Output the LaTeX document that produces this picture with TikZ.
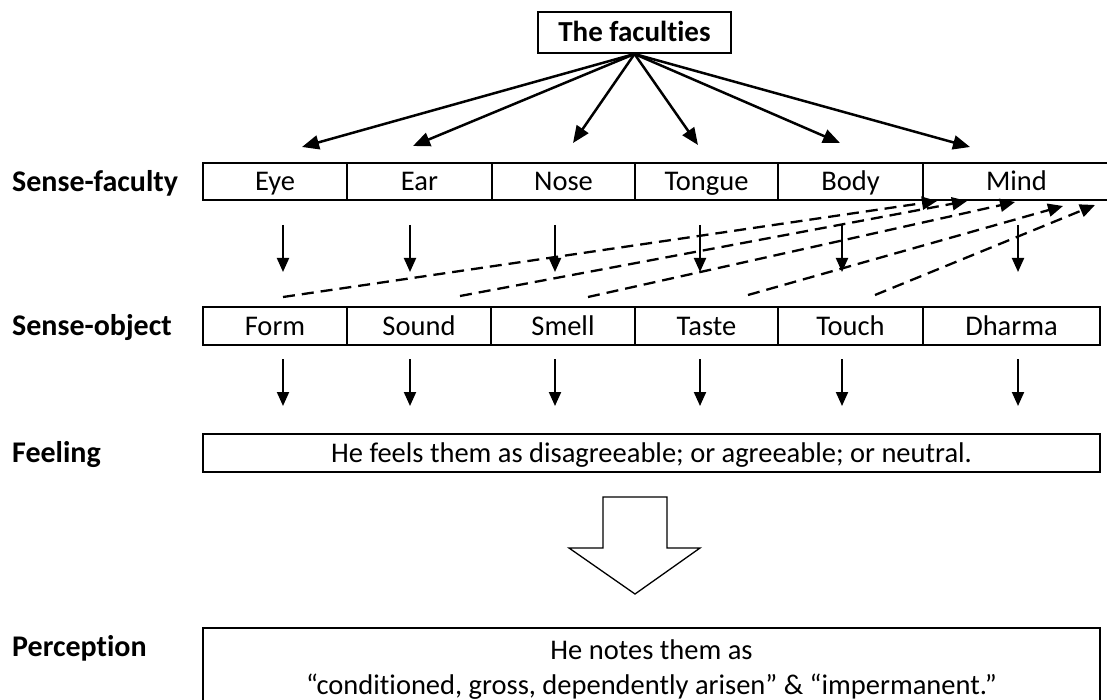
\documentclass[tikz,border=0pt]{standalone}
\usepackage{fontspec}
\setmainfont{Carlito}[Ligatures=NoCommon]
\usetikzlibrary{arrows.meta}
\begin{document}
\begin{tikzpicture}[x=1pt,y=-1pt,
  cell/.style={draw, line width=2pt, minimum height=37pt, inner sep=0pt,
    text height=18.5pt, text depth=0pt, font=\fontsize{28.5}{34}\selectfont},
  lbl/.style={anchor=west, inner sep=0pt, text height=19.5pt, text depth=0pt,
    font=\fontsize{30}{36}\selectfont\bfseries},
  ptxt/.style={inner sep=0pt, text height=18.5pt, text depth=0pt, font=\fontsize{28.5}{34}\selectfont},
  arr/.style={line width=2pt, -{Triangle[length=14pt,width=12pt]}},
  darr/.style={line width=2.3pt, dash pattern=on 12pt off 7pt, -{Triangle[length=15pt,width=13pt]}},
  tarr/.style={line width=2.5pt, -{Triangle[length=17pt,width=14pt]}}
]
\useasboundingbox (0,0) rectangle (1107,700);

% title
\node[draw, line width=2pt, minimum width=193pt, minimum height=41pt, inner sep=0pt,
      text height=19pt, text depth=0pt,
      font=\fontsize{29}{34}\selectfont\bfseries] (title) at (634.5,32.5) {The faculties};

% row labels
\node[lbl] (lfac) at (12,181.5) {Sense-faculty};
\node[lbl] (lobj) at (12,326) {Sense-object};
\node[lbl] (lfee) at (12,453) {Feeling};
\node[lbl] (lper) at (12,647) {Perception};

% sense-faculty row
\node[cell, minimum width=144pt] (eye) at (275,181.5) {Eye};
\node[cell, minimum width=145pt] (ear) at (419.5,181.5) {Ear};
\node[cell, minimum width=143pt] (nose) at (563.5,181.5) {Nose};
\node[cell, minimum width=143pt] (tongue) at (706.5,181.5) {Tongue};
\node[cell, minimum width=145pt] (body) at (850.5,181.5) {Body};
\node[cell, minimum width=187pt] (mind) at (1016.5,181.5) {Mind};

% sense-object row
\node[cell, minimum height=38pt, minimum width=144pt] (form) at (275,326) {Form};
\node[cell, minimum height=38pt, minimum width=144pt] (sound) at (419,326) {Sound};
\node[cell, minimum height=38pt, minimum width=144pt] (smell) at (563,326) {Smell};
\node[cell, minimum height=38pt, minimum width=143pt] (taste) at (706.5,326) {Taste};
\node[cell, minimum height=38pt, minimum width=145pt] (touch) at (850.5,326) {Touch};
\node[cell, minimum height=38pt, minimum width=177pt] (dharma) at (1011.5,326) {Dharma};

% feeling
\node[cell, minimum width=897pt, minimum height=38pt] (feel) at (651.5,453)
  {He feels them as disagreeable; or agreeable; or neutral.};

% perception
\node[draw, line width=2pt, minimum width=897pt, minimum height=95pt, inner sep=0pt] (perc) at (651.5,675) {};
\node[ptxt] (pt1) at (651.5,650) {He notes them as};
\node[ptxt] (pt2) at (651.5,685) {“conditioned, gross, dependently arisen” \& “impermanent.”};

% arrows from title
\coordinate (t1) at (302,147);
\coordinate (t2) at (413,146);
\coordinate (t3) at (573,143);
\coordinate (t4) at (698,145);
\coordinate (t5) at (840,143);
\coordinate (t6) at (970,147);
\foreach \i in {1,...,6} \draw[tarr] (title.south) -- (t\i);

% down arrows faculty -> object
\foreach \n/\x in {1/283,2/410,3/555,4/700,5/842,6/1018} {
  \coordinate (a\n s) at (\x,225);
  \coordinate (a\n e) at (\x,272);
  \draw[arr] (a\n s) -- (a\n e);
}

% dashed arrows to mind
\coordinate (d1s) at (283,297);  \coordinate (d1e) at (937,201);
\coordinate (d2s) at (460,296);  \coordinate (d2e) at (967,201);
\coordinate (d3s) at (588,297);  \coordinate (d3e) at (1015,202);
\coordinate (d4s) at (748,295);  \coordinate (d4e) at (1063,206);
\coordinate (d5s) at (875,295);  \coordinate (d5e) at (1095,205);
\foreach \i in {1,...,5} \draw[darr] (d\i s) -- (d\i e);

% down arrows object -> feeling
\foreach \n/\x in {1/283,2/410,3/555,4/700,5/842,6/1018} {
  \coordinate (b\n s) at (\x,359);
  \coordinate (b\n e) at (\x,406);
  \draw[arr] (b\n s) -- (b\n e);
}

% big block arrow
\draw[line width=1.3pt, line join=miter] (603,497) -- (667,497) -- (667,548) -- (700,548)
  -- (635,594) -- (569,548) -- (603,548) -- cycle;
\end{tikzpicture}
\end{document}
